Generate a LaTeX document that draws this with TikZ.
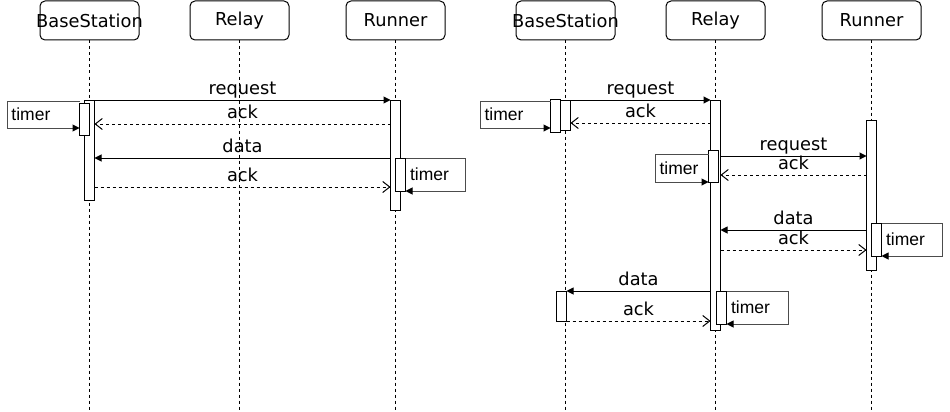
\documentclass[tikz,border=0pt]{standalone}
\usepackage{fontspec}
\setmainfont{DejaVu Sans}
\newfontfamily\timerfont{Liberation Sans}
\usetikzlibrary{arrows.meta}

\begin{document}
\begin{tikzpicture}
  [x=1pt,y=-1pt,line width=1pt,
  head/.style={rectangle,draw=black,rounded corners=5pt,minimum width=99pt,
                  minimum height=39pt,inner sep=0,font=\fontsize{17.8}{20}\selectfont},
  life/.style={dash pattern=on 3pt off 3pt},
  act/.style={rectangle,draw=black,fill=white,minimum width=10pt,inner sep=0,
                  outer sep=0},
  loopbox/.style={rectangle,inner sep=0,outer sep=0},
  msg/.style={-{Triangle[length=7pt,width=7pt]}},
  reply/.style={dash pattern=on 3pt off 3pt,-{Straight Barb[length=7pt,width=11pt]}},
  lbl/.style={above,font=\fontsize{17.8}{20}\selectfont,text depth=4pt,inner sep=1.5pt},
  tlbl/.style={anchor=west,font=\timerfont\fontsize{17.5}{20}\selectfont,inner sep=4pt},
  self/.style={draw=black!70,-{Triangle[length=7pt,width=7pt,color=black]}}
  ]
  \useasboundingbox (0,0) rectangle (950,412);

  % left diagram
  \node[head] (hBS1) at (89.5,20.5) {\makebox[0pt]{BaseStation}};
  \node[head] (hRl1) at (239.5,20.5) {Relay};
  \node[head] (hRn1) at (395.5,20.5) {Runner};
  \coordinate (eBS1) at (89.5,412);
  \coordinate (eRl1) at (239.5,412);
  \coordinate (eRn1) at (395.5,412);
  \draw[life] (hBS1) to (eBS1);
  \draw[life] (hRl1) to (eRl1);
  \draw[life] (hRn1) to (eRn1);

  \node[act,minimum height=100pt] (aBS1) at (89.5,150) {};
  \node[act,minimum height=32pt] (tBS1) at (84.5,119) {};
  \node[act,minimum height=110pt] (aRn1) at (395.5,155) {};
  \node[act,minimum height=33pt] (tRn1) at (400.5,174.5) {};

  \node[loopbox,minimum width=72.5pt,minimum height=27pt] (lpBS1) at (43.25,114.5) {};
  \node[tlbl] (tmBS1) at (lpBS1.west) {timer};
  \node[loopbox,minimum width=59.5pt,minimum height=33pt] (lpRn1) at (435.25,174.5) {};
  \node[tlbl] (tmRn1) at (lpRn1.west) {timer};
  \draw[self] (lpBS1.north east) -- (lpBS1.north west) -- (lpBS1.south west) -- (lpBS1.south east);
  \draw[self] (lpRn1.north west) -- (lpRn1.north east) -- (lpRn1.south east) -- (lpRn1.south west);

  \draw[msg] (aBS1.north east) to node[lbl] {request} (aRn1.north west);
  \draw[reply] (aRn1.west |- 0,124) to node[lbl] {ack} (aBS1.east |- 0,124);
  \draw[msg] (aRn1.west |- 0,158) to node[lbl] {data} (aBS1.east |- 0,158);
  \draw[reply] (aBS1.east |- 0,187) to node[lbl] {ack} (aRn1.west |- 0,187);

  % right diagram
  \node[head] (hBS2) at (565.5,20.5) {\makebox[0pt]{BaseStation}};
  \node[head] (hRl2) at (715.5,20.5) {Relay};
  \node[head] (hRn2) at (871.5,20.5) {Runner};
  \coordinate (eBS2) at (565.5,412);
  \coordinate (eRl2) at (715.5,412);
  \coordinate (eRn2) at (871.5,412);
  \draw[life] (hBS2) to (eBS2);
  \draw[life] (hRl2) to (eRl2);
  \draw[life] (hRn2) to (eRn2);

  \node[act,minimum height=30pt] (aBS2) at (565.5,115) {};
  \node[act,minimum height=33pt] (tBS2) at (555.5,115.5) {};
  \node[act,minimum height=230pt] (aRl2) at (715.5,215) {};
  \node[act,minimum height=32pt] (tRl2a) at (713.5,166) {};
  \node[act,minimum height=150pt] (aRn2) at (871.5,195) {};
  \node[act,minimum height=33pt] (tRn2) at (876.5,239.5) {};
  \node[act,minimum height=30pt] (aBS2b) at (561.5,306) {};
  \node[act,minimum height=33pt] (tRl2b) at (721.5,307.5) {};

  \node[loopbox,minimum width=70.5pt,minimum height=27pt] (lpBS2) at (515.25,114.5) {};
  \node[tlbl] (tmBS2) at (lpBS2.west) {timer};
  \node[loopbox,minimum width=53.5pt,minimum height=28pt] (lpRl2a) at (681.75,168) {};
  \node[tlbl] (tmRl2a) at (lpRl2a.west) {timer};
  \node[loopbox,minimum width=60.5pt,minimum height=33pt] (lpRn2) at (911.75,239.5) {};
  \node[tlbl] (tmRn2) at (lpRn2.west) {timer};
  \node[loopbox,minimum width=61.5pt,minimum height=33pt] (lpRl2b) at (757.25,307.5) {};
  \node[tlbl] (tmRl2b) at (lpRl2b.west) {timer};
  \draw[self] (lpBS2.north east) -- (lpBS2.north west) -- (lpBS2.south west) -- (lpBS2.south east);
  \draw[self] (lpRl2a.north east) -- (lpRl2a.north west) -- (lpRl2a.south west) -- (lpRl2a.south east);
  \draw[self] (lpRn2.north west) -- (lpRn2.north east) -- (lpRn2.south east) -- (lpRn2.south west);
  \draw[self] (lpRl2b.north west) -- (lpRl2b.north east) -- (lpRl2b.south east) -- (lpRl2b.south west);

  \draw[msg] (aBS2.north east) to node[lbl] {request} (aRl2.north west);
  \draw[reply] (aRl2.west |- 0,123) to node[lbl] {ack} (aBS2.east |- 0,123);
  \draw[msg] (aRl2.east |- 0,156) to node[lbl] {request} (aRn2.west |- 0,156);
  \draw[reply] (aRn2.west |- 0,175) to node[lbl] {ack} (aRl2.east |- 0,175);
  \draw[msg] (aRn2.west |- 0,230) to node[lbl] {data} (aRl2.east |- 0,230);
  \draw[reply] (aRl2.east |- 0,250) to node[lbl] {ack} (aRn2.west |- 0,250);
  \draw[msg] (aRl2.west |- 0,291) to node[lbl] {data} (aBS2b.north east);
  \draw[reply] (aBS2b.south east) to node[lbl] {ack} (aRl2.west |- 0,321);
\end{tikzpicture}
\end{document}
